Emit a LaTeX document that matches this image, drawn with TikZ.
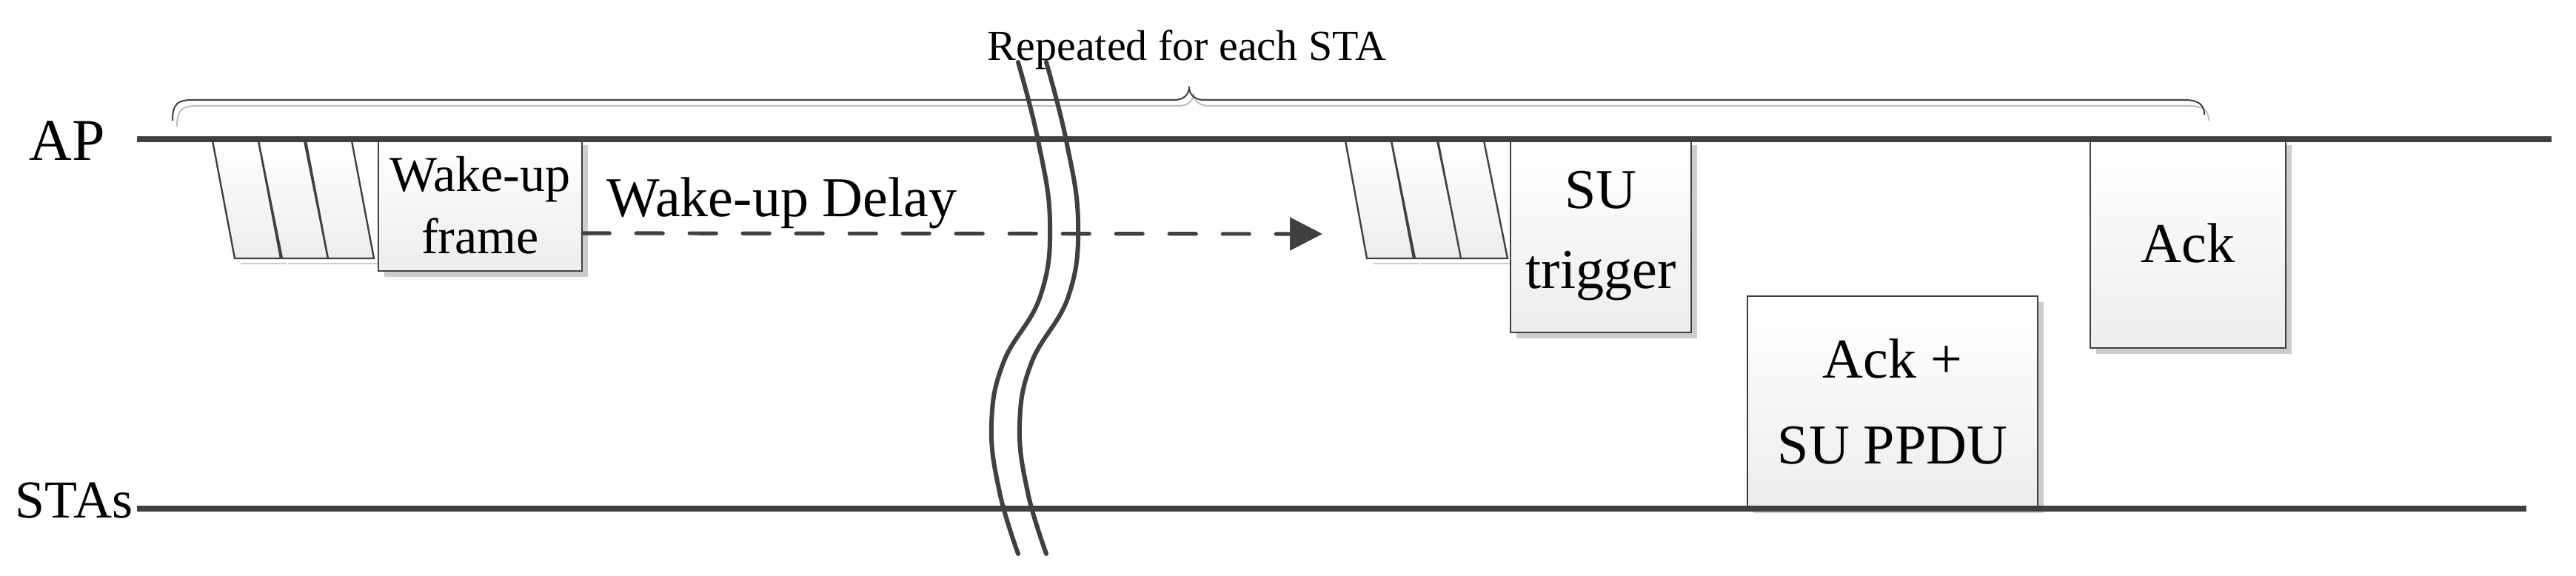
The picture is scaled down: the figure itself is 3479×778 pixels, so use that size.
\documentclass[tikz,border=0pt]{standalone}
\usepackage{fontspec}
\setmainfont{Liberation Serif}
\usetikzlibrary{arrows.meta,shadows}
\begin{document}
\begin{tikzpicture}[x=0.25pt,y=-0.25pt,
  lane/.style={line width=2.2pt,draw=black!75},
  frm/.style={draw=black!75,line width=0.6pt,top color=white,bottom color=black!7,
     drop shadow={shadow xshift=2pt,shadow yshift=-2pt,fill=black!20,opacity=1}},
  box/.style={frm,rectangle,align=center,inner sep=0pt,font=\fontsize{19}{21}\selectfont},
  sl/.style={draw=black!75,line width=0.6pt,top color=white,bottom color=black!7},
  slsh/.style={fill=black!20},
  lbl/.style={font=\fontsize{19}{21}\selectfont,inner sep=0pt},
  wave/.style={line width=1.5pt,draw=black!75,line cap=round}]
\useasboundingbox (0,0) rectangle (3479,778);
% lanes
\coordinate (apS) at (185,188); \coordinate (apE) at (3446,188);
\coordinate (stS) at (185,687); \coordinate (stE) at (3412,687);
\draw[lane] (apS) -- (apE);
\draw[lane] (stS) -- (stE);
\node[lbl,font=\fontsize{20}{22}\selectfont] (ap) at (91,190) {AP};
\node[lbl,font=\fontsize{18}{20}\selectfont] (sta) at (100,676) {STAs};
% slanted preambles left
\foreach \a/\b in {287/317,349/381,413/443}{
  \fill[slsh] (\b+8,355) rectangle (\b+62+8,349+8);
  \path[sl] (\a,190) -- (\a+62,190) -- (\b+62,349) -- (\b,349) -- cycle;
}
% slanted preambles right
\foreach \a/\b in {1817/1846,1879/1911,1942/1973}{
  \fill[slsh] (\b+8,355) rectangle (\b+63+8,349+8);
  \path[sl] (\a,190) -- (\a+62,190) -- (\b+63,349) -- (\b,349) -- cycle;
}
% boxes
\node[box,font=\fontsize{17}{19}\selectfont,minimum width=68.75pt,minimum height=44.5pt] (wake) at (648.5,277) {Wake-up\\[2pt]frame};
\node[box,minimum width=61pt,minimum height=65.25pt] (sut) at (2162,318.5) {SU\\[6pt]trigger};
\node[box,minimum width=98pt,minimum height=71.25pt] (ppdu) at (2556,542.5) {Ack +\\[8pt]SU PPDU};
\node[box,minimum width=66pt,minimum height=70.5pt] (ack) at (2955,329) {Ack};
% redraw lanes over box tops
\draw[lane] (apS) -- (apE);
\draw[lane] (stS) -- (stE);
% dashed arrow
\coordinate (dEnd) at (1786,316);
\node[lbl] (delay) at (1056,274) {Wake-up Delay};
\draw[line width=1.3pt,draw=black!75,dash pattern=on 9pt off 9pt,line cap=round,
  -{Triangle[length=11pt,width=11pt,fill=black!75,line cap=butt]}]
  ([yshift=-9.5pt]wake.east) -- (dEnd);
% brace
\begin{scope}[shift={(6,8)}]
\draw[black!25,line width=0.5pt] (233,163) .. controls (233,140) and (240,135) .. (260,135)
  -- (1585,135) .. controls (1600,135) and (1606,127) .. (1606,117)
  .. controls (1606,127) and (1612,135) .. (1627,135) -- (2950,135)
  .. controls (2970,135) and (2977,142) .. (2977,155);
\end{scope}
\draw[black!75,line width=0.5pt] (233,163) .. controls (233,140) and (240,135) .. (260,135)
  -- (1585,135) .. controls (1600,135) and (1606,127) .. (1606,117)
  .. controls (1606,127) and (1612,135) .. (1627,135) -- (2950,135)
  .. controls (2970,135) and (2977,142) .. (2977,155);
\node[lbl,font=\fontsize{14.5}{16}\selectfont,anchor=base] (rep) at (1603,82) {Repeated for each STA};
% break marks
\draw[wave] plot[smooth,tension=0.7] coordinates {(1375,84)(1402,190)(1418,300)(1405,400)(1355,490)(1339,575)(1350,665)(1375,748)};
\draw[wave] plot[smooth,tension=0.7] coordinates {(1413,84)(1440,190)(1456,300)(1443,400)(1393,490)(1377,575)(1388,665)(1413,748)};
\end{tikzpicture}
\end{document}
